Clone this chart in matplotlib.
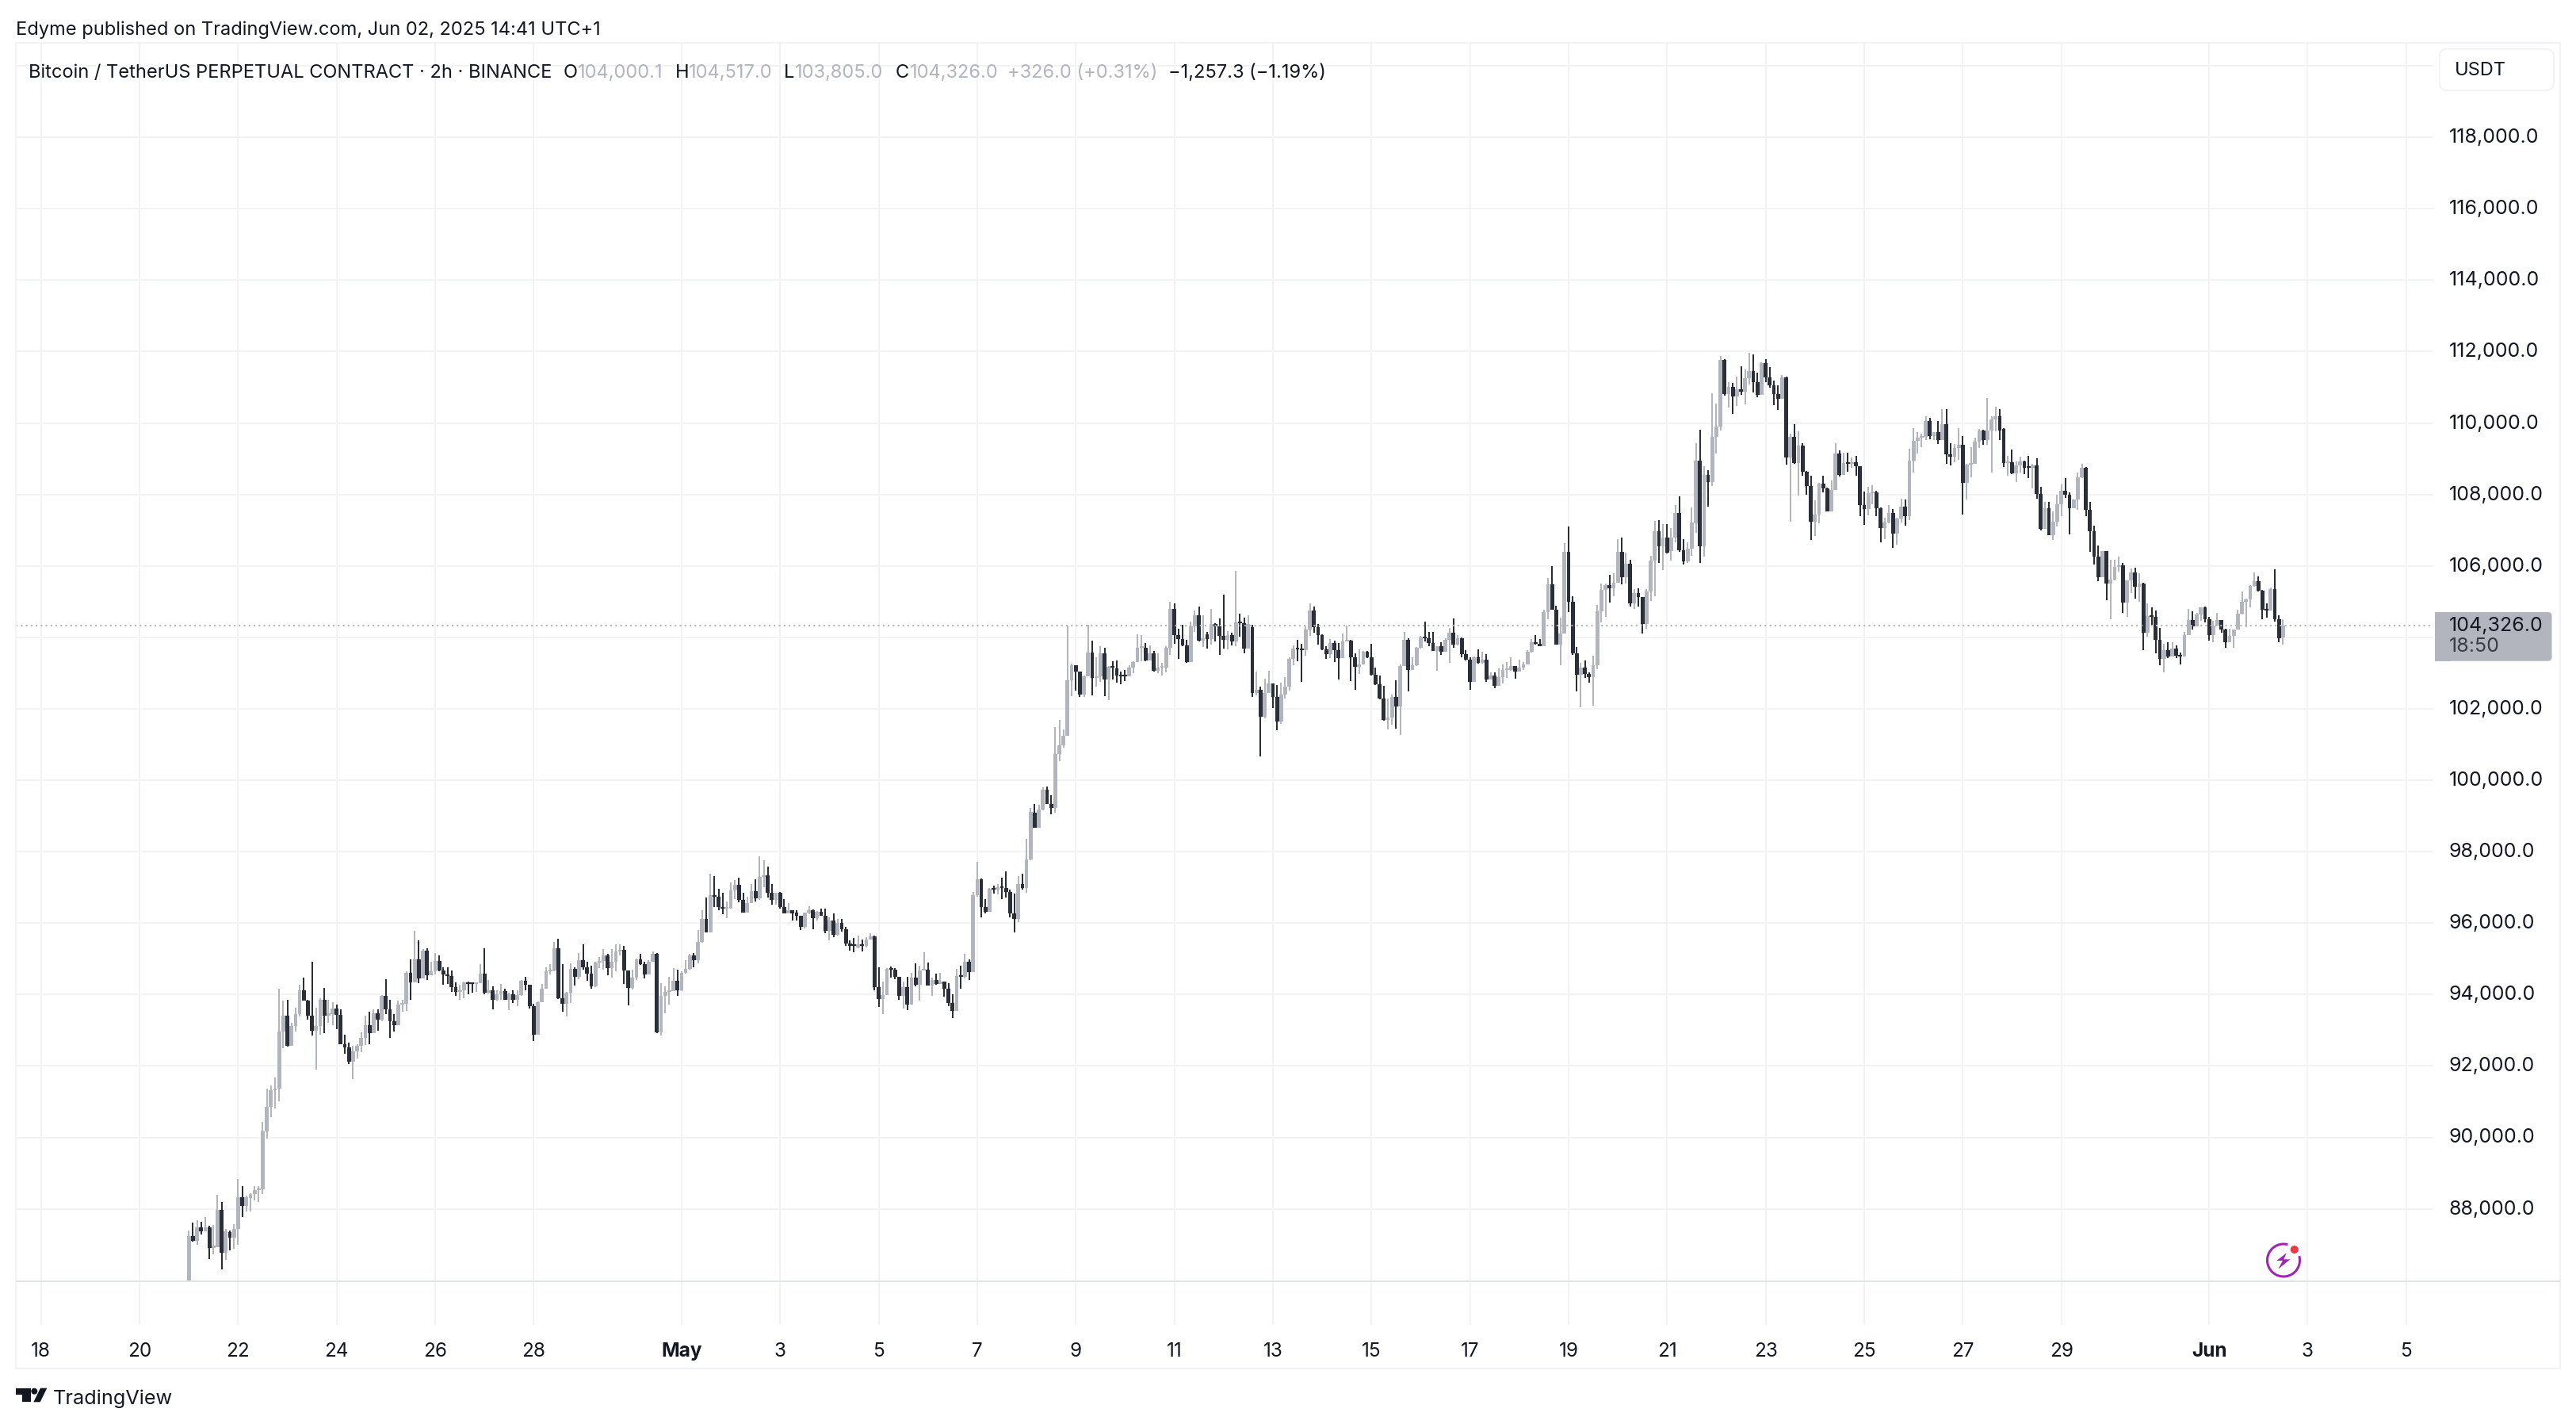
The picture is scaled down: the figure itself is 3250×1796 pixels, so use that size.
import numpy as np
import pandas as pd
import matplotlib
matplotlib.use('Agg')
import matplotlib.pyplot as plt
import matplotlib.dates as mdates
from matplotlib.patches import Arc, Circle, FancyBboxPatch, Polygon, Rectangle
from matplotlib.transforms import ScaledTranslation

plt.rcParams['font.family'] = ['Inter', 'DejaVu Sans']

W, H = 3250, 1796

UP = '#B2B5BE'
DOWN = '#2A2E39'
GRID = '#F2F3F5'
INK = '#131722'

# BTCUSDT.P 2h candles, first one opens Apr 21 00:00
opens = [
    85900, 87244, 87115, 87475, 87364, 87475, 86903, 86931, 87963, 86783,
    87355, 87198, 87429, 88332, 88083, 88313, 88424, 88516, 88544, 90175,
    90866, 91327, 91373, 92968, 93401, 92572, 93125, 93447, 94111, 93834,
    93401, 92986, 93115, 93843, 93420, 93456, 93613, 93429, 92599, 92516,
    92129, 92415, 92572, 92784, 93143, 92931, 93475, 93291, 93954, 93585,
    93254, 93143, 93724, 93751, 94609, 94341, 94996, 94452, 95235, 94544,
    94645, 94950, 94664, 94563, 94526, 94212, 94074, 94111, 94341, 94314,
    94286, 94323, 94581, 94046, 94120, 93843, 94000, 94102, 93853, 94010,
    93853, 93991, 94387, 94277, 93678, 92876, 93788, 94166, 94645, 94682,
    95290, 93899, 93751, 94046, 94719, 94489, 94968, 94774, 94581, 94221,
    94894, 94931, 95088, 94737, 94922, 95198, 95244, 94664, 94185, 94480,
    94996, 94857, 94553, 94922, 95143, 92940, 93954, 94065, 94102, 94378,
    94111, 94599, 94710, 95106, 94968, 95475, 96120, 95742, 96792, 96733,
    96452, 96415, 96430, 96911, 97067, 96644, 96296, 96555, 96889, 96689,
    97289, 97348, 96844, 96644, 96844, 96444, 96267, 96370, 96289, 96200,
    95889, 96289, 96355, 96133, 96311, 96200, 95778, 96067, 95667, 96000,
    95822, 95422, 95400, 95311, 95407, 95370, 95533, 95622, 94200, 93867,
    93985, 94711, 94689, 94489, 93955, 94200, 93711, 94467, 94267, 94667,
    94696, 94244, 94415, 94289, 94355, 94155, 93755, 93533, 94511, 94496,
    94911, 94622, 96792, 97222, 96444, 96311, 96955, 96933, 97000, 96985,
    96874, 96267, 96111, 97089, 96978, 97778, 99082, 98667, 99178, 99726,
    99341, 99215, 100726, 100970, 101237, 102793, 103215, 103044, 102400, 102919,
    103585, 102874, 102919, 103563, 102822, 103170, 103126, 102926, 102926, 102911,
    103163, 103311, 103704, 103704, 103348, 103556, 103059, 103148, 103163, 103704,
    104793, 104067, 103948, 103770, 103304, 104304, 104615, 103904, 104081, 103956,
    104370, 104304, 104044, 103933, 104067, 103889, 104415, 104393, 103681, 104281,
    102437, 102526, 101770, 102452, 102719, 102326, 101637, 102407, 102615, 103393,
    103681, 103681, 103652, 104215, 104748, 104289, 104074, 103659, 103526, 103837,
    103637, 103415, 103896, 103904, 103437, 103170, 103237, 103593, 103452, 102948,
    102681, 102282, 101696, 101748, 102326, 102059, 103193, 103926, 103081, 103222,
    103704, 103993, 103978, 103837, 103622, 103756, 103593, 103941, 104126, 103800,
    103970, 103533, 103370, 102748, 103452, 103281, 103385, 102822, 102933, 102637,
    102881, 103081, 103081, 103193, 103044, 103163, 103237, 103593, 103874, 103815,
    103763, 104704, 105481, 104785, 103800, 104119, 106393, 104993, 103548, 102956,
    103148, 102985, 102881, 103230, 104726, 105326, 105459, 105370, 105519, 106393,
    105681, 106059, 104948, 105237, 105126, 104370, 105281, 106148, 106970, 106548,
    106793, 106415, 106793, 107481, 106437, 106126, 106481, 107193, 108948, 106548,
    108548, 108348, 109615, 109904, 111770, 110815, 111015, 110755, 110948, 110874,
    111259, 111459, 111148, 110785, 111674, 111274, 111052, 110807, 110674, 111289,
    109029, 109622, 108889, 109370, 108644, 108229, 107244, 107437, 108311, 108178,
    107533, 108126, 109155, 108555, 108889, 108867, 108911, 108785, 107696, 107585,
    108044, 108067, 107622, 107067, 107222, 107481, 106911, 107333, 107659, 107400,
    108955, 109511, 109600, 109615, 110067, 109644, 109748, 109533, 109978, 109133,
    109067, 109311, 109400, 108333, 108844, 108867, 109489, 109800, 109533, 109800,
    110104, 110192, 109837, 108874, 108904, 108600, 108807, 108918, 108792, 108755,
    108815, 108007, 107044, 107622, 106866, 107237, 107733, 108111, 107985, 107622,
    107852, 108489, 108755, 107570, 106963, 106252, 105689, 106407, 105511, 105607,
    105978, 106022, 104978, 105585, 105822, 105422, 105511, 104133, 104592, 104578,
    103941, 103400, 103637, 103467, 103681, 103489, 103467, 104067, 104481, 104311,
    104644, 104830, 104518, 104067, 104326, 104481, 104222, 103867, 104037, 104222,
    104667, 104992, 105067, 105444, 105570, 105311, 104785, 104755, 105355, 104518,
    104000,
]
closes = [
    87244, 87115, 87475, 87364, 87475, 86903, 86968, 87963, 86783, 87364,
    87198, 87429, 88332, 88083, 88332, 88424, 88516, 88544, 90175, 90866,
    91327, 91373, 92968, 93401, 92572, 93125, 93447, 94111, 93834, 93401,
    92986, 93115, 93843, 93420, 93456, 93613, 93429, 92599, 92516, 92129,
    92415, 92572, 92784, 93143, 92931, 93475, 93291, 93954, 93585, 93254,
    93143, 93724, 93751, 94609, 94341, 94996, 94452, 95235, 94544, 94645,
    94950, 94664, 94563, 94526, 94212, 94074, 94111, 94341, 94286, 94286,
    94323, 94581, 94046, 94120, 93843, 94000, 94102, 93853, 94010, 93853,
    93991, 94387, 94277, 93678, 92876, 93788, 94166, 94645, 94682, 95290,
    93899, 93751, 94046, 94719, 94489, 94968, 94774, 94581, 94221, 94894,
    94931, 95088, 94737, 94922, 95198, 95244, 94664, 94185, 94480, 94996,
    94857, 94553, 94922, 95143, 92940, 93954, 94065, 94102, 94378, 94111,
    94599, 94710, 95106, 94968, 95475, 96120, 95742, 96792, 96733, 96452,
    96415, 96430, 96911, 97067, 96644, 96296, 96555, 96889, 96689, 97289,
    97348, 96844, 96644, 96844, 96444, 96267, 96370, 96267, 96200, 95889,
    96289, 96355, 96133, 96311, 96200, 95778, 96067, 95667, 96000, 95822,
    95422, 95370, 95370, 95407, 95370, 95533, 95622, 94200, 93867, 93985,
    94711, 94689, 94489, 93955, 94200, 93711, 94467, 94267, 94667, 94696,
    94244, 94415, 94289, 94355, 94155, 93755, 93533, 94511, 94496, 94911,
    94622, 96792, 97222, 96444, 96311, 96955, 96933, 97000, 96985, 96874,
    96267, 96111, 97089, 96978, 97778, 99111, 98667, 99178, 99726, 99341,
    99215, 100726, 100970, 101237, 102793, 103215, 103044, 102400, 102919, 103585,
    102874, 102919, 103563, 102822, 103170, 103156, 102926, 102919, 102911, 103163,
    103311, 103704, 103726, 103348, 103556, 103059, 103148, 103163, 103704, 104793,
    104067, 103948, 103770, 103304, 104304, 104615, 103904, 103970, 103956, 104370,
    104304, 104044, 103933, 104067, 103889, 104415, 104393, 103681, 104378, 102437,
    102526, 101770, 102452, 102719, 102326, 101637, 102407, 102615, 103393, 103681,
    103667, 103652, 104215, 104748, 104289, 104074, 103659, 103526, 103837, 103637,
    103415, 103896, 103926, 103437, 103170, 103237, 103593, 103452, 102948, 102681,
    102282, 101696, 101748, 102326, 102059, 103193, 103926, 103081, 103222, 103704,
    103993, 103978, 103837, 103622, 103756, 103593, 103941, 104126, 103800, 103970,
    103533, 103370, 102748, 103452, 103281, 103385, 102822, 102933, 102637, 102881,
    103081, 103104, 103193, 103044, 103163, 103237, 103593, 103874, 103815, 103763,
    104704, 105481, 104785, 103800, 104119, 106393, 104993, 103548, 102956, 103148,
    102985, 102881, 103230, 104726, 105326, 105459, 105370, 105519, 106393, 105681,
    106059, 104948, 105237, 105126, 104370, 105281, 106148, 106970, 106548, 106793,
    106378, 106793, 107481, 106437, 106126, 106481, 107215, 108948, 106548, 108548,
    108348, 109615, 109904, 111770, 110815, 111015, 110755, 110948, 110874, 111259,
    111459, 111148, 110785, 111674, 111274, 111052, 110807, 110674, 111289, 109029,
    109622, 108889, 109370, 108644, 108229, 107244, 107437, 108311, 108178, 107533,
    108126, 109155, 108555, 108889, 108867, 108911, 108785, 107696, 107585, 108044,
    108067, 107622, 107067, 107222, 107481, 106911, 107333, 107659, 107400, 108955,
    109511, 109600, 109615, 110067, 109644, 109748, 109533, 109978, 109133, 109067,
    109311, 109400, 108333, 108844, 108867, 109489, 109800, 109533, 109800, 110104,
    110192, 109800, 108874, 108904, 108600, 108807, 108918, 108755, 108755, 108815,
    108007, 107044, 107622, 106866, 107237, 107733, 108111, 107985, 107622, 107852,
    108489, 108755, 107570, 106963, 106252, 105689, 106407, 105511, 105607, 105978,
    106022, 104978, 105585, 105822, 105422, 105496, 104133, 104592, 104578, 103941,
    103400, 103637, 103467, 103681, 103489, 103467, 104067, 104481, 104311, 104644,
    104830, 104518, 104067, 104326, 104481, 104222, 103867, 104037, 104222, 104667,
    104992, 105067, 105444, 105570, 105311, 104770, 104755, 105355, 104518, 103978,
    104326,
]
highs = [
    87392, 87622, 87687, 87641, 87760, 87521, 87548, 88387, 88184, 87429,
    87392, 87576, 88830, 88636, 88378, 88442, 88645, 88636, 90442, 91373,
    91456, 91687, 94157, 93825, 93862, 93217, 93641, 94268, 94470, 93843,
    94913, 93622, 93899, 94175, 93862, 93797, 93724, 93585, 92866, 92645,
    92572, 92618, 92940, 93420, 93530, 93595, 93595, 93982, 94424, 93843,
    93447, 93825, 93862, 94645, 94996, 95779, 95512, 95263, 95290, 94913,
    95152, 95106, 94765, 94756, 94682, 94350, 94277, 94360, 94360, 94341,
    94341, 94857, 95290, 94415, 94231, 94129, 94286, 94157, 94046, 94120,
    94129, 94406, 94498, 94277, 93742, 93807, 94304, 94756, 94848, 95475,
    95567, 94848, 94065, 94867, 94756, 95152, 95410, 94922, 94811, 94913,
    95042, 95263, 95134, 95263, 95410, 95401, 95355, 94664, 94692, 95014,
    95143, 94922, 94968, 95198, 95171, 94323, 94231, 94489, 94747, 94692,
    94645, 94968, 95134, 95152, 95798, 96351, 96710, 97392, 97311, 96955,
    96844, 96600, 97133, 97200, 97267, 96852, 96733, 97089, 97222, 97866,
    97755, 97578, 97089, 96860, 96867, 96667, 96555, 96370, 96370, 96200,
    96290, 96467, 96378, 96333, 96400, 96400, 96155, 96267, 96111, 96111,
    95889, 95511, 95578, 95644, 95533, 95600, 95711, 95644, 94755, 94355,
    94733, 94778, 94733, 94489, 94355, 94504, 94600, 94867, 94800, 95178,
    94889, 94467, 94578, 94600, 94355, 94311, 94000, 94711, 94800, 95133,
    94978, 96881, 97711, 97244, 96667, 96978, 97044, 97089, 97267, 97444,
    96933, 96822, 97311, 97378, 98355, 99222, 99341, 99304, 99800, 99830,
    99570, 101482, 101681, 101415, 104333, 103259, 103230, 103050, 102930, 104363,
    103904, 103437, 103748, 103704, 103193, 103326, 103348, 103037, 103081, 103215,
    103326, 104081, 104059, 103837, 103770, 103615, 103563, 103281, 103748, 104993,
    104948, 104237, 104348, 103926, 104437, 104748, 104859, 104630, 104148, 104793,
    104393, 104526, 105193, 104170, 104126, 105859, 104674, 104563, 104615, 104363,
    103037, 102615, 102837, 103059, 102719, 102659, 102726, 102881, 103452, 103770,
    103926, 103815, 104304, 104948, 104874, 104378, 104081, 103748, 103948, 103904,
    103837, 104104, 104326, 103926, 103548, 103659, 103615, 103615, 103815, 103148,
    102926, 102637, 102282, 102393, 102793, 103237, 104148, 103970, 103452, 103726,
    104037, 104437, 104148, 104148, 103763, 103859, 103970, 104259, 104526, 104059,
    103993, 103637, 103437, 103459, 103659, 103593, 103526, 103015, 103030, 103126,
    103237, 103304, 103452, 103193, 103370, 103319, 103637, 103948, 104059, 103948,
    104778, 105652, 105993, 104881, 104548, 106637, 107104, 105141, 103726, 103281,
    103348, 103015, 103481, 104904, 105504, 105504, 105748, 105793, 106748, 106793,
    106370, 106170, 105348, 105370, 105140, 105348, 106281, 107259, 107281, 107170,
    107170, 107059, 107704, 107948, 106748, 106659, 107637, 109437, 109815, 108793,
    108681, 110837, 110548, 111881, 111793, 111148, 111126, 111311, 111600, 111511,
    111977, 111933, 111407, 111711, 111778, 111570, 111200, 111052, 111348, 111304,
    109711, 109978, 109778, 109437, 108650, 108526, 107844, 108333, 108533, 108185,
    108400, 109444, 109237, 109178, 109178, 109044, 109089, 108790, 108089, 108222,
    108267, 108111, 107630, 107355, 107711, 107600, 107340, 107889, 107866, 109289,
    109866, 109755, 109711, 110200, 110155, 109755, 110067, 110400, 110400, 109444,
    109422, 109866, 109644, 108850, 109333, 109600, 109844, 109815, 110711, 110200,
    110466, 110400, 109860, 109089, 109266, 108933, 109052, 108955, 109089, 108867,
    109015, 108222, 107792, 107792, 107533, 108000, 108289, 108467, 108067, 107866,
    108607, 108867, 108778, 107800, 107133, 106578, 106422, 106422, 106178, 106178,
    106267, 106089, 105600, 105933, 105955, 105800, 105533, 104955, 104844, 104755,
    104267, 103829, 103867, 103867, 103778, 103570, 104148, 104793, 104733, 104681,
    104844, 104867, 104570, 104459, 104681, 104496, 104237, 104237, 104225, 104770,
    105289, 105089, 105459, 105822, 105703, 105320, 104963, 105400, 105903, 104622,
    104517,
]
lows = [
    85900, 87088, 86995, 87290, 87364, 86599, 86737, 86931, 86313, 86581,
    86848, 86876, 87005, 87779, 87917, 87935, 88240, 88184, 88424, 89963,
    90562, 90802, 91005, 92498, 92553, 92560, 92959, 93383, 93834, 93291,
    92848, 91899, 92876, 92913, 93217, 93152, 93032, 92599, 92341, 92055,
    91631, 92221, 92387, 92590, 92618, 92922, 92977, 93263, 93447, 92784,
    92959, 93143, 93512, 93539, 93862, 94341, 94323, 94452, 94406, 94544,
    94553, 94645, 94277, 94304, 94074, 93954, 93843, 93890, 94010, 94046,
    94065, 94323, 94010, 94028, 93585, 93825, 93843, 93843, 93567, 93761,
    93678, 93954, 94111, 93604, 92701, 92866, 93788, 94157, 94553, 94645,
    93880, 93521, 93383, 93770, 94249, 94433, 94692, 94378, 94166, 94212,
    94737, 94692, 94535, 94480, 94645, 95106, 94286, 93687, 94139, 94415,
    94830, 94442, 94553, 94922, 92913, 92848, 93475, 93724, 94102, 93954,
    94092, 94581, 94692, 94756, 94876, 95447, 95742, 95742, 96444, 96355,
    96244, 96133, 96415, 96667, 96578, 96296, 96296, 96555, 96600, 96644,
    97000, 96711, 96511, 96511, 96400, 96267, 96267, 96067, 96081, 95800,
    95844, 96244, 95822, 96067, 96200, 95711, 95511, 95600, 95644, 95755,
    95355, 95222, 95178, 95289, 95200, 95311, 95533, 94111, 93644, 93444,
    93985, 94467, 94422, 93844, 93600, 93555, 93711, 94222, 93822, 94667,
    94244, 93955, 94267, 94289, 93933, 93667, 93333, 93533, 94155, 94444,
    94400, 94622, 96733, 96155, 96267, 96311, 96822, 96800, 96667, 96711,
    96155, 95733, 96022, 96933, 96844, 97755, 98667, 98667, 99163, 99341,
    99044, 99089, 100526, 100911, 101237, 102348, 102504, 102333, 102326, 102919,
    102378, 102615, 102748, 102348, 102252, 102822, 102741, 102689, 102770, 102904,
    102993, 103311, 103326, 103326, 103348, 103037, 103000, 102926, 103015, 103504,
    103815, 103393, 103748, 103281, 103304, 104148, 103881, 103726, 103681, 103793,
    103881, 103504, 103681, 103659, 103770, 103748, 104015, 103548, 103681, 102326,
    102378, 100659, 101741, 102452, 102015, 101393, 101585, 102282, 102504, 103215,
    103326, 102748, 103481, 104037, 104126, 103793, 103637, 103393, 103415, 103304,
    102815, 103415, 103896, 102770, 102526, 102970, 103237, 103415, 102926, 102659,
    102259, 101659, 101415, 101548, 101437, 101259, 103193, 102481, 103081, 103193,
    103681, 103881, 103748, 103615, 103059, 103504, 103593, 103281, 103704, 103785,
    103437, 103348, 102526, 102748, 103259, 103267, 102748, 102822, 102570, 102637,
    102711, 102859, 103074, 102837, 103044, 103081, 103237, 103570, 103800, 103748,
    103763, 104504, 104785, 103793, 103215, 104119, 104711, 103519, 102481, 102037,
    102867, 102733, 102081, 103104, 104415, 104570, 104970, 105148, 105519, 105481,
    105504, 104859, 104793, 104859, 104104, 104237, 105015, 105148, 106081, 105881,
    106348, 106156, 106659, 106393, 106037, 106081, 106281, 106926, 106081, 106259,
    107659, 108237, 109148, 109793, 110770, 110437, 110252, 110474, 110785, 110518,
    111081, 110866, 110718, 110785, 111155, 110985, 110496, 110363, 110674, 108829,
    107244, 108867, 107963, 108533, 108000, 106733, 106844, 107200, 108067, 107533,
    107533, 108126, 108511, 108555, 108644, 108755, 108533, 107400, 107155, 107422,
    107718, 107400, 106667, 106755, 107200, 106511, 106600, 107215, 107133, 107289,
    108622, 109155, 109333, 109533, 109555, 109533, 109422, 109533, 108866, 108822,
    108904, 108977, 107444, 107866, 108489, 108860, 109311, 109400, 109400, 108622,
    109778, 109533, 108778, 108533, 108578, 108355, 108607, 108578, 108467, 108178,
    107889, 107000, 107044, 106866, 106733, 107111, 107385, 107903, 106889, 107622,
    107578, 108467, 107385, 106400, 106044, 105578, 105689, 105044, 104511, 105600,
    105830, 104681, 104578, 105237, 105089, 105000, 103644, 104015, 104355, 103555,
    103222, 103030, 103422, 103467, 103422, 103244, 103467, 104067, 104222, 104311,
    104474, 104422, 103911, 103867, 104326, 104126, 103711, 103867, 103711, 104215,
    104637, 104296, 104830, 105422, 105289, 104511, 104555, 104755, 104437, 103867,
    103805,
]
assert len(opens) == len(closes) == len(highs) == len(lows) == 511

last_price = 104326

x_tick_dates = ['2025-04-18', '2025-04-20', '2025-04-22', '2025-04-24', '2025-04-26', '2025-04-28',
                '2025-05-01', '2025-05-03', '2025-05-05', '2025-05-07', '2025-05-09', '2025-05-11',
                '2025-05-13', '2025-05-15', '2025-05-17', '2025-05-19', '2025-05-21', '2025-05-23',
                '2025-05-25', '2025-05-27', '2025-05-29', '2025-06-01', '2025-06-03', '2025-06-05']
x_tick_labels = ['18', '20', '22', '24', '26', '28', 'May', '3', '5', '7', '9', '11', '13', '15', '17',
                 '19', '21', '23', '25', '27', '29', 'Jun', '3', '5']
y_ticks = list(range(88000, 122000, 2000))
y_tick_labels = ['' if v in (104000, 120000) else f'{v:,.1f}' for v in y_ticks]

fig = plt.figure(figsize=(W / 100, H / 100), dpi=100, facecolor='white')

# plot area runs from x 20 to 3070 and y 54 to 1615 in picture pixels
ax = fig.add_axes([20 / W, 1 - 1615 / H, 3050 / W, 1561 / H])
times = mdates.date2num(pd.date_range('2025-04-21', periods=len(opens), freq='2h'))
day0 = mdates.date2num(pd.Timestamp('2025-04-18'))
ax.set_xlim(day0 - 0.51, day0 + 48.55)
ax.set_ylim(85995, 120646)
for spine in ax.spines.values():
    spine.set_visible(False)

tick_x = mdates.date2num(pd.to_datetime(x_tick_dates))
ax.set_xticks(tick_x, x_tick_labels)
ax.set_yticks(y_ticks, y_tick_labels)
ax.yaxis.tick_right()
ax.tick_params(axis='x', length=0, pad=56, labelsize=17.5, labelcolor=INK)
ax.tick_params(axis='y', length=0, pad=14, labelsize=18, labelcolor=INK)
for label in ax.get_xticklabels():
    if label.get_text() in ('May', 'Jun'):
        label.set_fontweight('bold')
nudge_up = ScaledTranslation(0, 1.5 / 72, fig.dpi_scale_trans)
for label in ax.get_yticklabels():
    label.set_transform(label.get_transform() + nudge_up)

for t in tick_x:
    ax.axvline(t, ymin=-0.0352, ymax=1, color=GRID, lw=1.44, clip_on=False, zorder=0)
for v in y_ticks:
    ax.axhline(v, color=GRID, lw=1.44, zorder=0)

# each candle in turn, later ones sit over earlier ones
body_w = 4.8 / 62.17
for i in range(len(opens)):
    o, c = opens[i], closes[i]
    col = UP if c >= o else DOWN
    ax.plot([times[i], times[i]], [lows[i], highs[i]], color=col, lw=1.44, solid_capstyle='butt',
            zorder=2 + i * 0.001)
    ax.bar(times[i], max(abs(c - o), 45), bottom=min(o, c), width=body_w, color=col, linewidth=0,
           zorder=2 + i * 0.001)

ax.axhline(last_price, color=UP, lw=1.5, linestyle=(0, (1, 2)), zorder=4)

# chrome around the chart, in picture pixels
deco = fig.add_axes([0, 0, 1, 1])
deco.set_xlim(0, W)
deco.set_ylim(H, 0)
deco.axis('off')
deco.patch.set_alpha(0)


def txt(x, y, s, color=INK, size=17, **kw):
    deco.text(x, y, s, color=color, fontsize=size, va='center', ha=kw.pop('ha', 'left'), **kw)


deco.add_patch(Rectangle((20, 54), 3210, 1672, fill=False, edgecolor='#F2F3F5', lw=1.6))
deco.plot([20, 3230], [1616, 1616], color='#E0E3EB', lw=1.44, solid_capstyle='butt')

txt(20, 38, 'Edyme published on TradingView.com, Jun 02, 2025 14:41 UTC+1')

txt(36, 92, 'Bitcoin / TetherUS PERPETUAL CONTRACT · 2h · BINANCE')
txt(711, 92, 'O')
txt(729, 92, '104,000.1', color=UP)
txt(852, 92, 'H')
txt(869, 92, '104,517.0', color=UP)
txt(989, 92, 'L')
txt(1003, 92, '103,805.0', color=UP)
txt(1130, 92, 'C')
txt(1148, 92, '104,326.0', color=UP)
txt(1271, 92, '+326.0 (+0.31%)', color=UP)
txt(1474, 92, '−1,257.3 (−1.19%)')

deco.add_patch(FancyBboxPatch((3085.7, 69.7), 128.3, 36.3, boxstyle='round,pad=8,rounding_size=10',
                              facecolor='white', edgecolor='#F0F1F3', lw=1.2))
txt(3097, 89, 'USDT', size=17)

# last price tag
deco.add_patch(FancyBboxPatch((3072, 772), 147.5, 61.7, boxstyle='round,pad=0,rounding_size=5',
                              facecolor=UP, edgecolor='none'))
deco.add_patch(Rectangle((3072, 772), 20, 61.7, facecolor=UP, edgecolor='none'))
txt(3090, 789, '104,326.0', size=18)
txt(3090, 816, '18:50', color='#3A3D45', size=18)

# lightning badge
deco.add_patch(Arc((2881, 1589.5), 41, 41, theta1=345, theta2=285, color='#9C27B0', lw=2.2))
deco.add_patch(Polygon([(2884.8, 1580.3), (2872.2, 1590), (2879.9, 1590), (2874.3, 1600.7),
                        (2889.4, 1588.3), (2881.3, 1588.3)], closed=True, facecolor='#9C27B0',
                       edgecolor='none'))
deco.add_patch(Circle((2894.7, 1576), 5, facecolor='#F23645', edgecolor='none'))

# TradingView logo
deco.add_patch(Polygon([(20, 1750.7), (39, 1750.7), (39, 1768.3), (28.3, 1768.3), (28.3, 1759), (20, 1759)],
                       closed=True, facecolor=INK, edgecolor='none'))
deco.add_patch(Circle((43.3, 1754.7), 4, facecolor=INK, edgecolor='none'))
deco.add_patch(Polygon([(51, 1750.7), (59.3, 1750.7), (50.7, 1768.3), (42.3, 1768.3)], closed=True,
                       facecolor=INK, edgecolor='none'))
txt(67, 1764, 'TradingView', size=18.2)

fig.savefig('out.png', dpi=100, facecolor='white')
